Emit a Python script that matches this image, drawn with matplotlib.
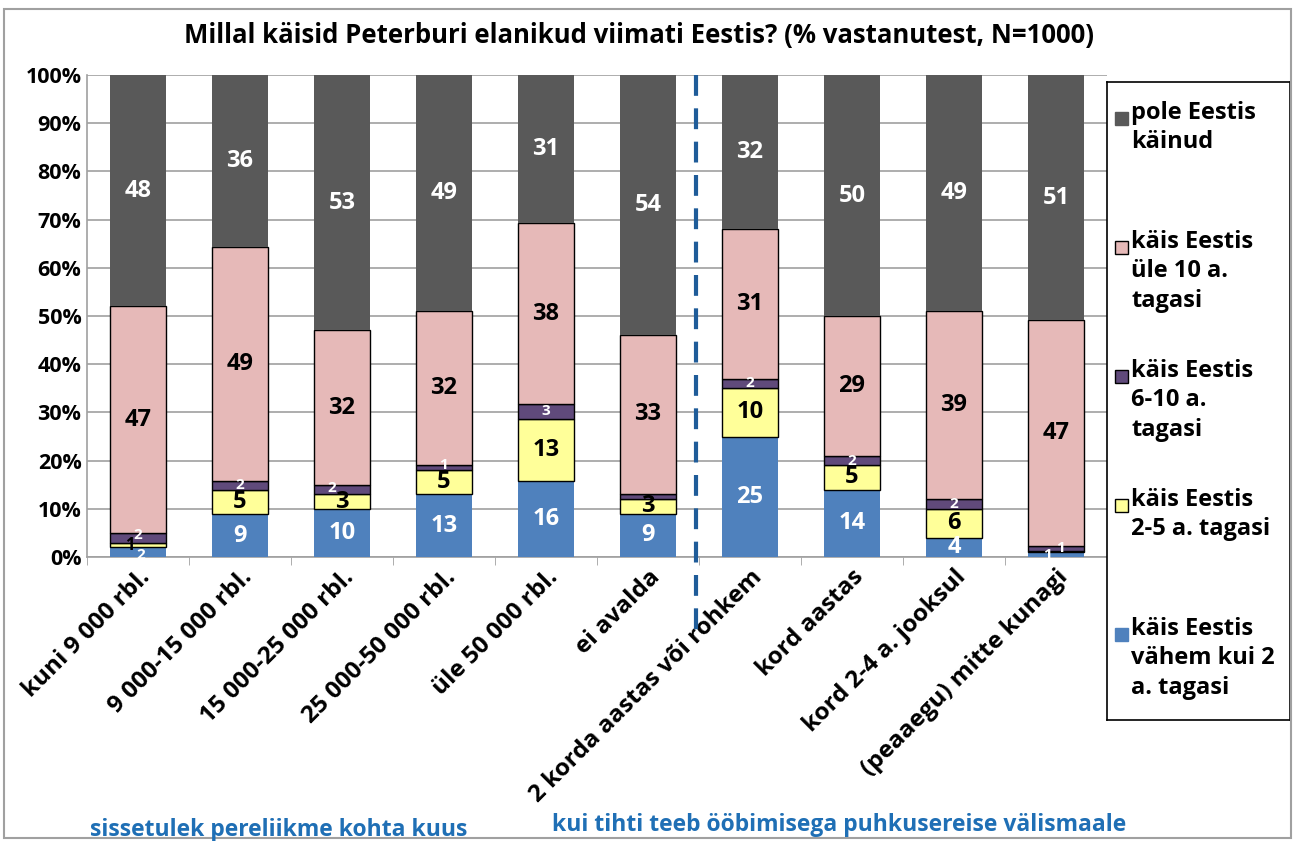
import numpy as np
import matplotlib.pyplot as plt
from matplotlib.patches import Rectangle
from matplotlib.lines import Line2D

plt.rcParams['font.family'] = ['Open Sans', 'DejaVu Sans']
plt.rcParams['font.weight'] = 'bold'

categories = ['kuni 9 000 rbl.', '9 000-15 000 rbl.', '15 000-25 000 rbl.',
              '25 000-50 000 rbl.', 'üle 50 000 rbl.', 'ei avalda',
              '2 korda aastas või rohkem', 'kord aastas', 'kord 2-4 a. jooksul',
              '(peaaegu) mitte kunagi']

# bottom -> top
lt2 = [2, 9, 10, 13, 16, 9, 25, 14, 4, 1]        # käis Eestis vähem kui 2 a. tagasi
y2_5 = [1, 5, 3, 5, 13, 3, 10, 5, 6, 0.3]         # käis Eestis 2-5 a. tagasi
y6_10 = [2, 2, 2, 1, 3, 1.2, 2, 2, 2, 1]          # käis Eestis 6-10 a. tagasi
gt10 = [47, 49, 32, 32, 38, 33, 31, 29, 39, 47]   # käis Eestis üle 10 a. tagasi
never = [48, 36, 53, 49, 31, 54, 32, 50, 49, 51]  # pole Eestis käinud

# labels shown (None = no label)
lab_y2_5 = ['1', '5', '3', '5', '13', '3', '10', '5', '6', None]
lab_y6_10 = ['2', '2', '2', '1', '3', None, '2', '2', '2', '1']

series = [lt2, y2_5, y6_10, gt10, never]
colors = ['#4F81BD', '#FFFF99', '#604A7B', '#E6B9B8', '#595959']
edges = ['none', 'black', 'black', 'black', 'none']
txtcol = ['white', 'black', 'white', 'black', 'white']
names = ['käis Eestis\nvähem kui 2\na. tagasi', 'käis Eestis\n2-5 a. tagasi',
         'käis Eestis\n6-10 a.\ntagasi', 'käis Eestis\nüle 10 a.\ntagasi',
         'pole Eestis\nkäinud']

data = np.array(series, dtype=float)
pct = data / data.sum(axis=0) * 100

fig = plt.figure(figsize=(12.97, 8.41), dpi=100)
fig.patches.append(Rectangle((0.003, 0.003), 0.992, 0.986, transform=fig.transFigure,
                             fill=False, edgecolor='#a0a0a0', linewidth=1.5))
ax = fig.add_axes([87 / 1297, 1 - 557 / 841, 1020 / 1297, 482 / 841])

x = np.arange(len(categories))
bottom = np.zeros(len(categories))
for i, (vals, c) in enumerate(zip(pct, colors)):
    ax.bar(x, vals, 0.54, bottom=bottom, color=c, edgecolor=edges[i], linewidth=1, zorder=3)
    for j in range(len(categories)):
        mid = bottom[j] + vals[j] / 2
        dx, dy = 0, 0
        if i == 0:
            lab = str(lt2[j])
            fs = 17 if vals[j] > 3 else 11
        elif i == 1:
            lab = lab_y2_5[j]
            fs = 17 if vals[j] > 2 else 12
        elif i == 2:
            lab = lab_y6_10[j]
            fs = 11
        elif i == 3:
            lab = str(gt10[j])
            fs = 17
        else:
            lab = str(never[j])
            fs = 17
        if lab is None:
            continue
        if j == 0:
            dx, dy = [(0.03, -0.6), (-0.08, 0), (0, 0.6)][i] if i < 3 else (0, 0)
        if j in (2, 3) and i == 2:
            dx, dy = (-0.1, 0.4) if j == 2 else (0, 0.5)
        if j == 9 and i in (0, 2):
            dx = -0.08 if i == 0 else 0.04
        ax.text(x[j] + dx, mid + dy, lab, ha='center', va='center', color=txtcol[i],
                fontsize=fs, fontweight='bold', zorder=5)
    bottom += vals

ax.set_xlim(-0.5, len(categories) - 0.5)
ax.set_ylim(0, 100)
ax.set_yticks(np.arange(0, 101, 10))
ax.set_yticklabels([f'{v}%' for v in range(0, 101, 10)], fontsize=15.5, fontweight='bold')
ax.yaxis.grid(True, color='#a0a0a0', linewidth=1.2, zorder=0)
ax.set_xticks(x)
ax.set_xticklabels(categories, rotation=45, ha='right', va='top', rotation_mode='anchor',
                   fontsize=17.5, fontweight='bold')
ax.tick_params(axis='x', length=0, pad=6)
ax.set_xticks(np.arange(-0.5, len(categories), 1), minor=True)
ax.tick_params(axis='x', which='minor', length=6, color='#a0a0a0', direction='out')
ax.tick_params(axis='y', length=0, pad=4)
for s in ['top', 'right']:
    ax.spines[s].set_visible(False)
for s in ['left', 'bottom']:
    ax.spines[s].set_color('#a0a0a0')
    ax.spines[s].set_linewidth(1.2)

# dashed divider
ax.add_line(Line2D([5.47, 5.47], [100, -16.5], color='#1F5C99', linewidth=3,
                   linestyle=(0, (5, 3)), clip_on=False, zorder=6))

fig.text(0.493, 1 - 35 / 841, 'Millal käisid Peterburi elanikud viimati Eestis? (% vastanutest, N=1000)',
         ha='center', va='center', fontsize=18.5, fontweight='bold')
fig.text(90 / 1297, 1 - 830 / 841, 'sissetulek pereliikme kohta kuus', ha='left', va='center',
         fontsize=16.5, fontweight='bold', color='#1F6FB5')
fig.text(552 / 1297, 1 - 825 / 841, 'kui tihti teeb ööbimisega puhkusereise välismaale', ha='left',
         va='center', fontsize=16.5, fontweight='bold', color='#1F6FB5')

# legend
lax = fig.add_axes([1107 / 1297, 1 - 720 / 841, 183 / 1297, 638 / 841])
lax.set_xlim(0, 183)
lax.set_ylim(638, 0)
lax.set_xticks([])
lax.set_yticks([])
for s in lax.spines.values():
    s.set_color('black')
    s.set_linewidth(1.2)
for k, i in enumerate(range(4, -1, -1)):
    ytop = 36 + k * 129
    lax.add_patch(Rectangle((8, ytop - 6), 13, 13, facecolor=colors[i],
                            edgecolor='black' if edges[i] != 'none' else colors[i], linewidth=1))
    lax.text(24, ytop - 17, names[i], ha='left', va='top', fontsize=17, fontweight='bold',
             linespacing=1.3)

fig.savefig('out.png', dpi=100)
